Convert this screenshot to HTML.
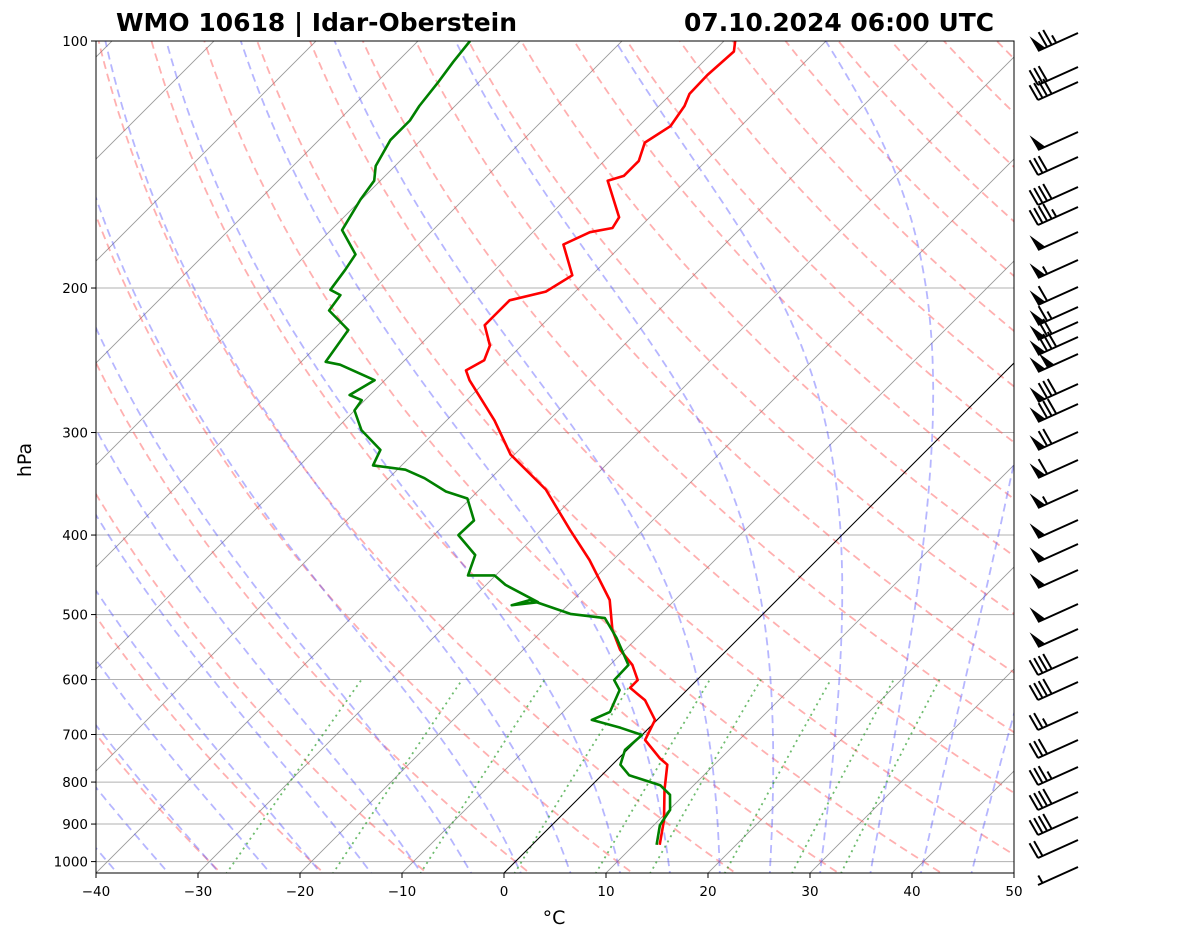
<!DOCTYPE html>
<html><head><meta charset="utf-8"><style>
body{margin:0;background:#fff;}
svg{display:block;font-family:"DejaVu Sans","Liberation Sans",sans-serif;}
</style></head><body>
<svg id="chart" width="1181" height="941" xmlns="http://www.w3.org/2000/svg">
<defs><clipPath id="clip"><rect x="96" y="41" width="918" height="832"/></clipPath></defs>
<rect x="0" y="0" width="1181" height="941" fill="#fff"/>
<g id="bg" clip-path="url(#clip)"></g>
<g id="prof" clip-path="url(#clip)"></g>
<rect x="96" y="41" width="918" height="832" fill="none" stroke="#000" stroke-width="1"/>
<g id="axes"></g>
<g id="barbs"></g>
<text x="116" y="31" font-size="24.5" font-weight="bold" textLength="401" lengthAdjust="spacingAndGlyphs">WMO 10618 | Idar-Oberstein</text>
<text x="684" y="31" font-size="24.5" font-weight="bold" textLength="310" lengthAdjust="spacingAndGlyphs">07.10.2024 06:00 UTC</text>
<text x="0" y="0" font-size="19" text-anchor="middle" transform="translate(31,460) rotate(-90)">hPa</text>
<text x="554" y="924" font-size="19" text-anchor="middle">°C</text>
</svg>
<script>
const tempP=[954,890,818,762,748,711,672,636,614,601,576,552,522,480,429,394,352,319,290,259,252,245,235,222,216,207,202,193,177,171,169,164,148,146,140,133,127,120,116,110,103,100];
const tempT=[12.5,10.5,7.6,5.4,4.0,0.8,-0.2,-3.1,-5.8,-5.8,-7.8,-10.5,-13.2,-16.4,-22.3,-27.2,-33.5,-40.4,-45.3,-51.7,-53.0,-52.2,-53.1,-55.6,-55.6,-55.6,-52.9,-51.9,-55.8,-54.4,-52.6,-53.0,-57.7,-56.6,-56.6,-57.8,-56.9,-57.5,-58.2,-58.3,-58.0,-58.9];
const dewP=[954,903,865,829,807,785,762,731,701,687,672,657,618,601,576,534,505,499,480,487,483,460,448,448,423,400,384,361,354,341,333,329,315,298,282,274,270,259,248,246,225,213,204,201,190,182,170,156,148,142,132,125,120,112,106,100];
const dewT=[12.2,10.6,10.1,8.6,6.7,2.7,0.8,-0.2,0.0,-2.8,-6.4,-5.4,-6.6,-8.1,-8.2,-12.0,-15.1,-18.9,-24.2,-25.5,-23.2,-28.1,-30.1,-32.7,-34.0,-37.6,-37.5,-40.3,-43.1,-46.5,-49.2,-52.8,-53.6,-57.4,-60,-60.3,-62,-61,-65.9,-67.6,-68.5,-72.3,-72.7,-74.2,-74.7,-75.2,-78.9,-80.1,-80.6,-81.9,-83,-83,-83.5,-84,-84.5,-84.9];
const barbY=[41,75,90,140,165,195,215,240,268,295,315,330,345,362,392,412,440,468,498,528,552,578,612,637,665,690,720,748,775,800,825,848,875];
const barbSpd=[75,30,40,50,30,40,45,50,55,60,65,70,80,100,80,80,70,60,55,50,50,50,50,50,40,40,25,30,35,40,40,20,5];
const pTicks=[100,200,300,400,500,600,700,800,900,1000];
const tTicks=[-40,-30,-20,-10,0,10,20,30,40,50];

const NS="http://www.w3.org/2000/svg";
function yP(p){return 41+820.6*Math.log10(p/100);}
function xT(T,p){return 96+(T+40)*10.2+(873-yP(p));}
function mk(tag,attrs,parent){const e=document.createElementNS(NS,tag);for(const k in attrs)e.setAttribute(k,attrs[k]);parent.appendChild(e);return e;}
const bg=document.getElementById('bg'),prof=document.getElementById('prof'),axes=document.getElementById('axes'),barbs=document.getElementById('barbs');
function pathFrom(pts){return pts.map((q,i)=>(i?'L':'M')+q[0].toFixed(1)+','+q[1].toFixed(1)).join('');}
const pLevels=[];for(let p=1050;p>=98;p*=0.985)pLevels.push(p);

pTicks.forEach(p=>{const l=mk('line',{x1:96,x2:1014,y1:yP(p),y2:yP(p),stroke:'#b0b0b0','stroke-width':1},bg);

});
for(let T=-130;T<=50;T+=10){const l=mk('line',{x1:xT(T,1050),y1:yP(1050),x2:xT(T,95),y2:yP(95),stroke:'#888','stroke-width':0.9,opacity:0.85},bg);

}
for(let th=-30;th<=200;th+=10){const pts=pLevels.map(p=>[xT((th+273.15)*Math.pow(p/1000,0.2857)-273.15,p),yP(p)]);
const e=mk('path',{d:pathFrom(pts),fill:'none',stroke:'#ff5050','stroke-width':1.8,'stroke-dasharray':'8,5',opacity:0.45},bg);

}
function es(T){return 6.112*Math.exp(17.67*T/(T+243.5));}
function dTdp(T,p){const Tk=T+273.15,rs=0.622*es(T)/(p-es(T));const Rd=287,Cp=1005,Lv=2.501e6;
return (Rd*Tk+Lv*rs)/(Cp+Lv*Lv*rs*0.622/(Rd*Tk*Tk))/p;}
function moist(T0){const up=[],dn=[];let T=T0,p=1000;up.push([T,p]);
while(p>100){const dp=-5;T+=dTdp(T,p)*dp;p+=dp;up.push([T,p]);}
T=T0;p=1000;while(p<1050){const dp=5;T+=dTdp(T,p)*dp;p+=dp;dn.unshift([T,p]);}
return dn.concat(up);}
for(let T0=-40;T0<=45;T0+=5){const pts=moist(T0).map(q=>[xT(q[0],q[1]),yP(q[1])]);
const e=mk('path',{d:pathFrom(pts),fill:'none',stroke:'#4848ff','stroke-width':1.8,'stroke-dasharray':'8,5',opacity:0.4},bg);

}
[0.0004,0.001,0.002,0.004,0.007,0.01,0.016,0.024,0.032].forEach(w=>{const pts=[];
for(let p=1050;p>=600;p-=10){const e=p*w/(0.622+w),L=Math.log(e/6.112);pts.push([xT(243.5*L/(17.67-L),p),yP(p)]);}
const e=mk('path',{d:pathFrom(pts),fill:'none',stroke:'#30a030','stroke-width':1.8,'stroke-dasharray':'2,4',opacity:0.7},bg);

});
const z=mk('line',{x1:xT(0,1050),y1:yP(1050),x2:xT(0,95),y2:yP(95),stroke:'#000','stroke-width':1},bg);


const tp=mk('path',{d:pathFrom(tempP.map((p,i)=>[xT(tempT[i],p),yP(p)])),fill:'none',stroke:'#f00','stroke-width':2.6,'stroke-linejoin':'round'},prof);


const dp=mk('path',{d:pathFrom(dewP.map((p,i)=>[xT(dewT[i],p),yP(p)])),fill:'none',stroke:'#008000','stroke-width':2.6,'stroke-linejoin':'round'},prof);


pTicks.forEach(p=>{const y=yP(p);mk('line',{x1:91,x2:96,y1:y,y2:y,stroke:'#000'},axes);
const t=mk('text',{x:88,y:y+5,'font-size':13.5,'text-anchor':'end'},axes);t.textContent=p;

});
tTicks.forEach(T=>{const x=96+(T+40)*10.2;mk('line',{x1:x,x2:x,y1:873,y2:878,stroke:'#000'},axes);
const t=mk('text',{x:x,y:896,'font-size':13.5,'text-anchor':'middle'},axes);t.textContent=(T<0?'\u2212'+(-T):T);

});
barbY.forEach((y,i)=>{const g=mk('g',{},barbs);


const tx=1038,ty=y+10,hx=1078,hy=y-8;
const L=Math.hypot(hx-tx,hy-ty),ux=(hx-tx)/L,uy=(hy-ty)/L;const nx=-0.5,ny=-0.87;const bl=17;
mk('line',{x1:tx,y1:ty,x2:hx,y2:hy,stroke:'#000','stroke-width':2},g);
let s=Math.round(barbSpd[i]/5)*5,pos=0;
while(s>=50){const ax=tx+ux*pos,ay=ty+uy*pos,bx=tx+ux*(pos+8),by=ty+uy*(pos+8);
mk('polygon',{points:`${ax},${ay} ${bx},${by} ${ax+nx*bl},${ay+ny*bl}`,fill:'#000'},g);pos+=10;s-=50;}
while(s>=10){const ax=tx+ux*pos,ay=ty+uy*pos;mk('line',{x1:ax,y1:ay,x2:ax+nx*bl,y2:ay+ny*bl,stroke:'#000','stroke-width':2},g);pos+=5;s-=10;}
if(s>=5){if(pos===0)pos=5;const ax=tx+ux*pos,ay=ty+uy*pos;mk('line',{x1:ax,y1:ay,x2:ax+nx*bl/2,y2:ay+ny*bl/2,stroke:'#000','stroke-width':2},g);}
});
</script>
</body></html>
